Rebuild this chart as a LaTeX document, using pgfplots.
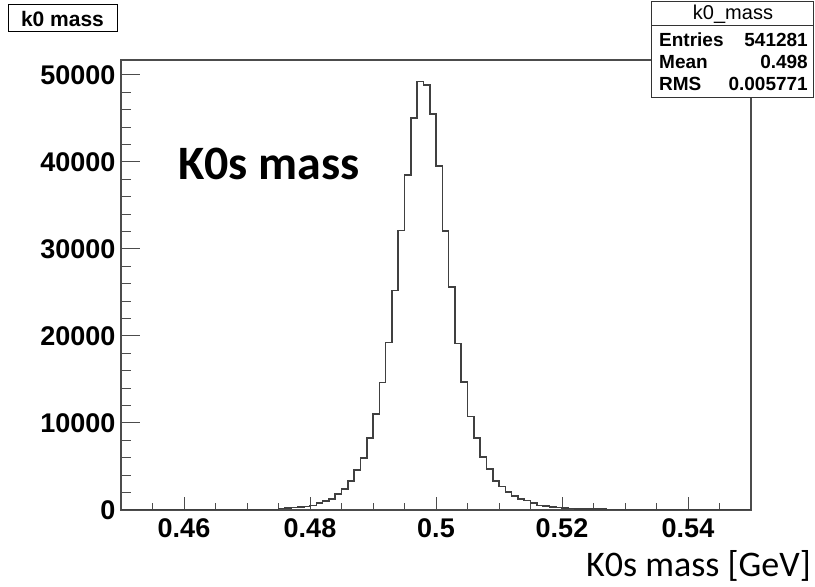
\documentclass[border=0pt]{standalone}
\usepackage{pgfplots}
\pgfplotsset{compat=1.18}
\usepackage{fontspec}
\newfontfamily\arial{Liberation Sans}
\newfontfamily\calibri{Carlito}
\begin{document}
\begin{tikzpicture}[x=1pt,y=1pt]
\useasboundingbox (0,0) rectangle (815,587);
\begin{axis}[
  at={(121pt,77pt)}, anchor=south west,
  scale only axis, width=630pt, height=450pt,
  xmin=0.45, xmax=0.55, ymin=0, ymax=51700,
  scaled x ticks=false, scaled y ticks=false,
  tick align=inside, xtick pos=bottom, ytick pos=left,
  xtick={0.46,0.48,0.5,0.52,0.54},
  xticklabels={0.46,0.48,0.5,0.52,0.54},
  minor xtick={0.455,0.465,0.47,0.475,0.485,0.49,0.495,0.505,0.51,0.515,0.525,0.53,0.535,0.545},
  ytick={0,10000,20000,30000,40000,50000},
  yticklabels={0,10000,20000,30000,40000,50000},
  minor ytick={2000,4000,6000,8000,12000,14000,16000,18000,22000,24000,26000,28000,32000,34000,36000,38000,42000,44000,46000,48000},
  xtick style={/pgfplots/major tick length=12.7pt,/pgfplots/minor tick length=7pt, black!70, line width=1pt},
  ytick style={/pgfplots/major tick length=19pt,/pgfplots/minor tick length=10pt, black!70, line width=1pt},
  axis line style={black!70, line width=1.2pt},
  ticklabel style={font=\arial\bfseries\fontsize{27}{27}\selectfont},
  /pgf/number format/assume math mode=true,
  xticklabel style={yshift=-5pt},
  yticklabel style={xshift=-2pt},
]
\addplot[const plot, black!75, line width=1.6pt] coordinates {
(0.450,0) (0.465,20) (0.466,25) (0.467,25) (0.468,30) (0.469,30)
(0.470,35) (0.471,40) (0.472,45) (0.473,55) (0.474,70)
(0.475,170) (0.476,210) (0.477,280) (0.478,330) (0.479,400)
(0.480,500) (0.481,770) (0.482,1030) (0.483,1260) (0.484,1840)
(0.485,2410) (0.486,3330) (0.487,4600) (0.488,5940) (0.489,8300)
(0.490,11030) (0.491,14630) (0.492,19230) (0.493,25210) (0.494,32100)
(0.495,38500) (0.496,45020) (0.497,49230) (0.498,48850) (0.499,45480)
(0.500,39540) (0.501,32070) (0.502,25600) (0.503,19120) (0.504,14710)
(0.505,10720) (0.506,8300) (0.507,6060) (0.508,4680) (0.509,3330)
(0.510,2680) (0.511,2100) (0.512,1610) (0.513,1260) (0.514,1070)
(0.515,770) (0.516,520) (0.517,450) (0.518,330) (0.519,290)
(0.520,200) (0.521,170) (0.522,120) (0.523,110) (0.524,100)
(0.525,90) (0.526,85) (0.527,80) (0.528,70) (0.529,60)
(0.530,55) (0.531,50) (0.532,40) (0.533,25) (0.534,20)
(0.535,0) (0.550,0)
};
\end{axis}
% title box
\draw[black, line width=0.8pt, fill=white] (8,556) rectangle (117,583);
\node[anchor=base, inner sep=0pt, font=\arial\bfseries\fontsize{21}{21}\selectfont] at (62.5,560.5) {k0 mass};
% stats box
\draw[black!80, line width=0.8pt, fill=white] (651,490) rectangle (813,586);
\draw[black!80, line width=0.8pt] (651,562) -- (813,562);
\node[inner sep=0pt, font=\arial\fontsize{20}{20}\selectfont] at (733,573) {k0\_mass};
\begin{scope}[every node/.style={inner sep=0pt, font=\arial\bfseries\fontsize{19}{19}\selectfont}]
\node[anchor=west] at (659,547) {Entries};
\node[anchor=east] at (808,547) {541281};
\node[anchor=west] at (659,525) {Mean};
\node[anchor=east] at (808,525) {0.498};
\node[anchor=west] at (659,503) {RMS};
\node[anchor=east] at (808,503) {0.005771};
\end{scope}
% annotations
\node[anchor=base west, inner sep=0pt, font=\calibri\bfseries\fontsize{48}{48}\selectfont] at (178,407) {K0s mass};
\node[anchor=base east, inner sep=0pt, font=\calibri\fontsize{36}{36}\selectfont] at (811,10) {K0s mass [GeV]};
\end{tikzpicture}
\end{document}
